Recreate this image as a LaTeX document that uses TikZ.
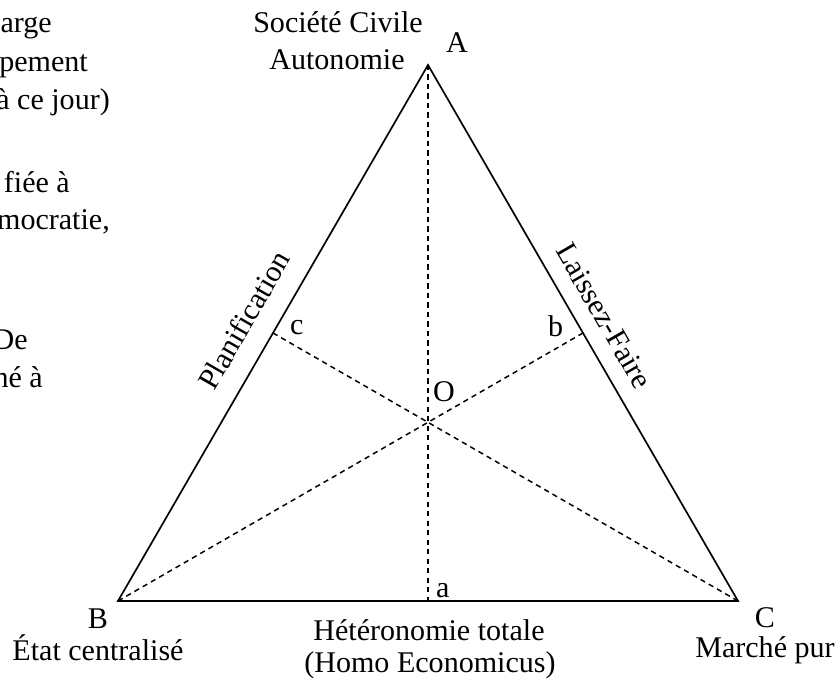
\documentclass[tikz,border=0pt]{standalone}
\usepackage{fontspec}
\setmainfont{Liberation Serif}
\begin{document}
\begin{tikzpicture}[x=0.03333cm,y=-0.03333cm,
        every node/.style={font=\fontsize{28.5}{36}\selectfont, inner sep=0pt},
        side/.style={line width=1.6pt},
        median/.style={line width=1.4pt, dash pattern=on 5pt off 4pt}]

            \useasboundingbox (0,0) rectangle (840,680);

            \coordinate (A) at (428,65);
            \coordinate (B) at (118,601);
            \coordinate (C) at (738,601);
            \coordinate (a) at (428,601);
            \coordinate (b) at (583,333);
            \coordinate (c) at (273,333);
            \coordinate (O) at (428,422);

            \draw[side] (A) -- (B) -- (C) -- cycle;

            \draw[median] (A) -- (a);
            \draw[median] (B) -- (b);
            \draw[median] (C) -- (c);

            % vertices
            \node[anchor=base] (labA) at (457,53) {A};
            \node[anchor=base] (socA) at (338,33) {Société Civile};
            \node[anchor=base] (autA) at (337,70) {Autonomie};
            \node[anchor=base] (labB) at (98,628) {B};
            \node[anchor=base] (etatB) at (98,660) {État centralisé};
            \node[anchor=base] (labC) at (765,627) {C};
            \node[anchor=base] (marC) at (765,657) {Marché pur};
            \node[anchor=base] (hetA) at (429,640) {Hétéronomie totale};
            \node[anchor=base] (homA) at (430,672) {(Homo Economicus)};

            % midpoints and centre
            \node[anchor=base west] (laba) at (436,597) {a};
            \node[anchor=base west] (labb) at (548,337) {b};
            \node[anchor=base west] (labc) at (290,335) {c};
            \node[anchor=base west] (labO) at (433,402) {O};

            % sides
            \node[rotate=60] (plan) at (244,320) {Planification};
            \node[rotate=-60] (laiss) at (604,316) {Laissez-Faire};

            % cut text on the left
            \node[anchor=base east] (txt1) at (52,33) {arge};
            \node[anchor=base east] (txt2) at (88,72) {pement};
            \node[anchor=base east] (txt3) at (110,110) {à ce jour)};
            \node[anchor=base east] (txt4) at (70,193) {fiée à};
            \node[anchor=base east] (txt5) at (110,230) {mocratie,};
            \node[anchor=base east] (txt6) at (28,350) {De};
            \node[anchor=base east] (txt7) at (43,388) {né à};

        \end{tikzpicture}
\end{document}
